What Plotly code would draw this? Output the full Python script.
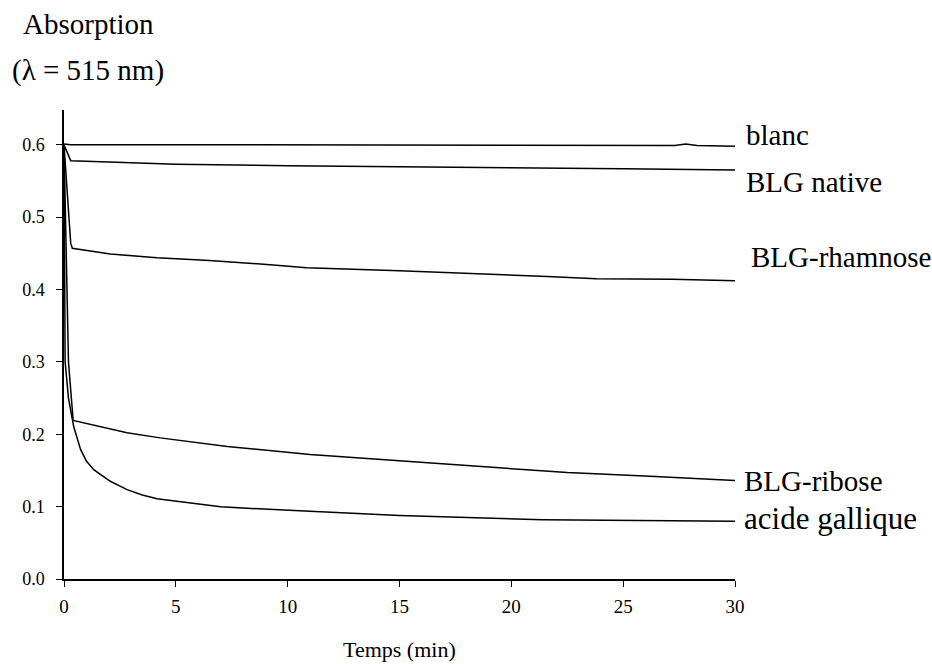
import plotly.graph_objects as go

# Time (min) and absorbance values
t_blanc = [0, 0.3, 5, 10, 15, 20, 25, 27.3, 27.8, 28.3, 30]
y_blanc = [0.601, 0.600, 0.600, 0.600, 0.600, 0.599, 0.599, 0.599, 0.601, 0.599, 0.598]

t_native = [0, 0.3, 2, 5, 10, 15, 20, 25, 30]
y_native = [0.600, 0.578, 0.576, 0.573, 0.571, 0.570, 0.568, 0.567, 0.565]

t_rham = [0, 0.21, 0.3, 0.37, 2.07, 4.16, 6.5, 9.35, 10.85, 15.0, 18.6, 21.6, 23.8, 27.2, 30]
y_rham = [0.600, 0.506, 0.464, 0.457, 0.449, 0.444, 0.440, 0.434, 0.430, 0.426, 0.422, 0.418, 0.415, 0.414, 0.412]

t_ribose = [0, 0.2, 0.41, 2.82, 4.3, 7.3, 11.0, 15.0, 18.7, 22.5, 26.2, 30]
y_ribose = [0.600, 0.300, 0.219, 0.202, 0.195, 0.183, 0.172, 0.163, 0.155, 0.147, 0.142, 0.136]

t_gallic = [0, 0.05, 0.2, 0.43, 0.74, 1.0, 1.33, 2.07, 2.82, 3.5, 4.16, 5.8, 7.0, 10.3, 15.0, 21.4, 26.9, 30]
y_gallic = [0.600, 0.300, 0.250, 0.211, 0.179, 0.163, 0.151, 0.135, 0.1235, 0.116, 0.111, 0.104, 0.0997, 0.0945, 0.0876, 0.082, 0.081, 0.0798]

series_names = ["blanc", "BLG native", "BLG-rhamnose", "BLG-ribose", "acide gallique"]
label_y = [0.614, 0.549, 0.445, 0.136, 0.0835]
label_x = [30.42, 30.42, 30.64, 30.33, 30.33]

x_ticks = [0, 5, 10, 15, 20, 25, 30]
y_ticks = [0.0, 0.1, 0.2, 0.3, 0.4, 0.5, 0.6]
x_range = [0, 30]
y_range = [0, 0.648]

FONT = "Liberation Serif, Times New Roman, serif"

W, H = 932, 664
ml, mr, mt, mb = 63.5, 196.5, 110, 84.5
pw, ph = W - ml - mr, H - mt - mb


def px_to_paper(px, py):
    return (px - ml) / pw, 1 - (py - mt) / ph


def data_to_paper(x, y):
    return (x - x_range[0]) / (x_range[1] - x_range[0]), (y - y_range[0]) / (y_range[1] - y_range[0])


fig = go.Figure()
for tx, ty, nm in [(t_blanc, y_blanc, series_names[0]), (t_native, y_native, series_names[1]),
                   (t_rham, y_rham, series_names[2]), (t_ribose, y_ribose, series_names[3]),
                   (t_gallic, y_gallic, series_names[4])]:
    fig.add_trace(go.Scatter(x=tx, y=ty, mode="lines", name=nm,
                             line=dict(color="black", width=1.5), cliponaxis=False))

label_sizes = [29, 29, 29, 29, 31]
for nm, lx, ly, fs in zip(series_names, label_x, label_y, label_sizes):
    px, py = data_to_paper(lx, ly)
    fig.add_annotation(x=px, y=py, xref="paper", yref="paper", text=nm, showarrow=False,
                       xanchor="left", yanchor="middle",
                       font=dict(family=FONT, size=fs, color="black"))

ax, ay = px_to_paper(88, 24)
fig.add_annotation(x=ax, y=ay, xref="paper", yref="paper", text="Absorption", showarrow=False,
                   xanchor="center", yanchor="middle",
                   font=dict(family=FONT, size=29, color="black"))
bx, by = px_to_paper(88, 70)
fig.add_annotation(x=bx, y=by, xref="paper", yref="paper", text="(λ = 515 nm)", showarrow=False,
                   xanchor="center", yanchor="middle",
                   font=dict(family=FONT, size=29, color="black"))
tx_, ty_ = px_to_paper(399.5, 650)
fig.add_annotation(x=tx_, y=ty_, xref="paper", yref="paper", text="Temps (min)", showarrow=False,
                   xanchor="center", yanchor="middle",
                   font=dict(family=FONT, size=22, color="black"))

fig.update_layout(
    width=W, height=H,
    margin=dict(l=ml, r=mr, t=mt, b=mb, pad=0, autoexpand=False),
    paper_bgcolor="white", plot_bgcolor="white",
    showlegend=False,
    font=dict(family=FONT, color="black"),
    xaxis=dict(range=x_range, tickvals=x_ticks, ticks="outside", ticklen=6, tickwidth=1.3,
               tickcolor="black", showline=True, linecolor="black", linewidth=1.5,
               showgrid=False, zeroline=False, tickfont=dict(family=FONT, size=19),
               ticklabelstandoff=3, automargin=False),
    yaxis=dict(range=y_range, tickvals=y_ticks, tickformat=".1f", ticks="outside", ticklen=6,
               tickwidth=1.3, tickcolor="black", showline=True, linecolor="black", linewidth=1.5,
               showgrid=False, zeroline=False, tickfont=dict(family=FONT, size=18),
               ticklabelstandoff=8, automargin=False),
)

fig.write_html("out.html", config={"displayModeBar": False},
               post_script="document.body.style.margin='0px';document.body.style.overflow='hidden';")
